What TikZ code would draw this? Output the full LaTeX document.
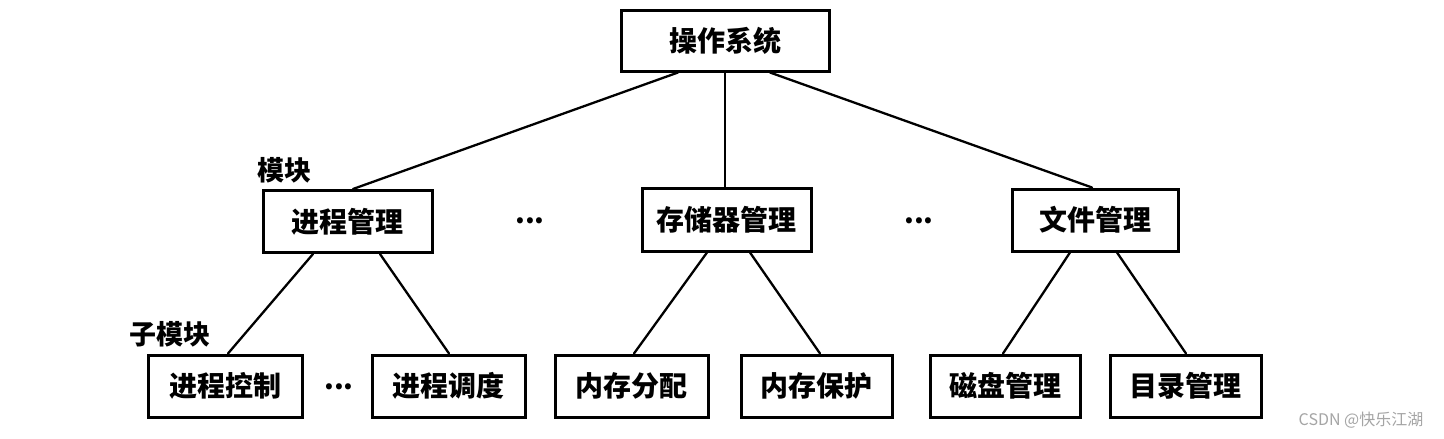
\documentclass[tikz,border=0pt]{standalone}
\usepackage{fontspec}
\newfontfamily\cjk{Noto Sans CJK SC}
\definecolor{wm}{RGB}{165,165,165}
\tikzset{
  box/.style={draw=black, line width=3pt, minimum height=62pt, inner sep=0pt,
    font=\cjk\bfseries\fontsize{28}{32}\selectfont},
  conn/.style={line width=2.3pt, line cap=round},
  lbl/.style={inner sep=0pt, font=\cjk\bfseries\fontsize{27}{30}\selectfont},
  dots/.style={inner sep=0pt, font=\cjk\bfseries\fontsize{28}{30}\selectfont}
}
\begin{document}
\begin{tikzpicture}[x=1pt,y=-1pt]
\useasboundingbox[fill=white] (0,0) rectangle (1444,439);
% top
\node[box, minimum width=208pt, minimum height=61pt] (os) at (725,40.5) {操作系统};
% middle
\node[box, minimum width=169pt] (pm) at (347.5,221.5) {进程管理};
\node[box, minimum width=169pt, minimum height=63pt] (sm) at (726.5,219.5) {存储器管理};
\node[box, minimum width=166pt] (fm) at (1095,220) {文件管理};
% bottom
\node[box, minimum width=154pt] (pc) at (225,386) {进程控制};
\node[box, minimum width=153pt] (ps) at (448.5,386) {进程调度};
\node[box, minimum width=153pt] (ma) at (631.5,386) {内存分配};
\node[box, minimum width=151pt] (mp) at (816.5,386) {内存保护};
\node[box, minimum width=150pt] (dm) at (1005,386) {磁盘管理};
\node[box, minimum width=151pt] (dir) at (1185.5,386) {目录管理};
% labels
\node[lbl] (l1) at (284.5,170) {模块};
\node[lbl] (l2) at (170,334) {子模块};
% dots
\node[dots] (d1) at (530,221) {...};
\node[dots] (d2) at (919,221) {...};
\node[dots] (d3) at (339,387) {...};
% connectors
\draw[conn] ([xshift=-47pt]os.south) -- ([xshift=5.5pt]pm.north);
\draw[conn] (os.south) -- (os.south |- sm.north);
\draw[conn] ([xshift=45pt]os.south) -- ([xshift=-3pt]fm.north);
\draw[conn] ([xshift=-34.5pt]pm.south) -- ([xshift=3pt]pc.north);
\draw[conn] ([xshift=32.5pt]pm.south) -- ([xshift=0.5pt]ps.north);
\draw[conn] ([xshift=-19.5pt]sm.south) -- ([xshift=2.5pt]ma.north);
\draw[conn] ([xshift=23.5pt]sm.south) -- ([xshift=3.5pt]mp.north);
\draw[conn] ([xshift=-25pt]fm.south) -- ([xshift=-2pt]dm.north);
\draw[conn] ([xshift=22pt]fm.south) -- ([xshift=0.5pt]dir.north);
% watermark
\node[inner sep=0pt, text=wm, font=\cjk\fontsize{16}{18}\selectfont] (wmk) at (1361,420) {CSDN @快乐江湖};
\end{tikzpicture}
\end{document}
